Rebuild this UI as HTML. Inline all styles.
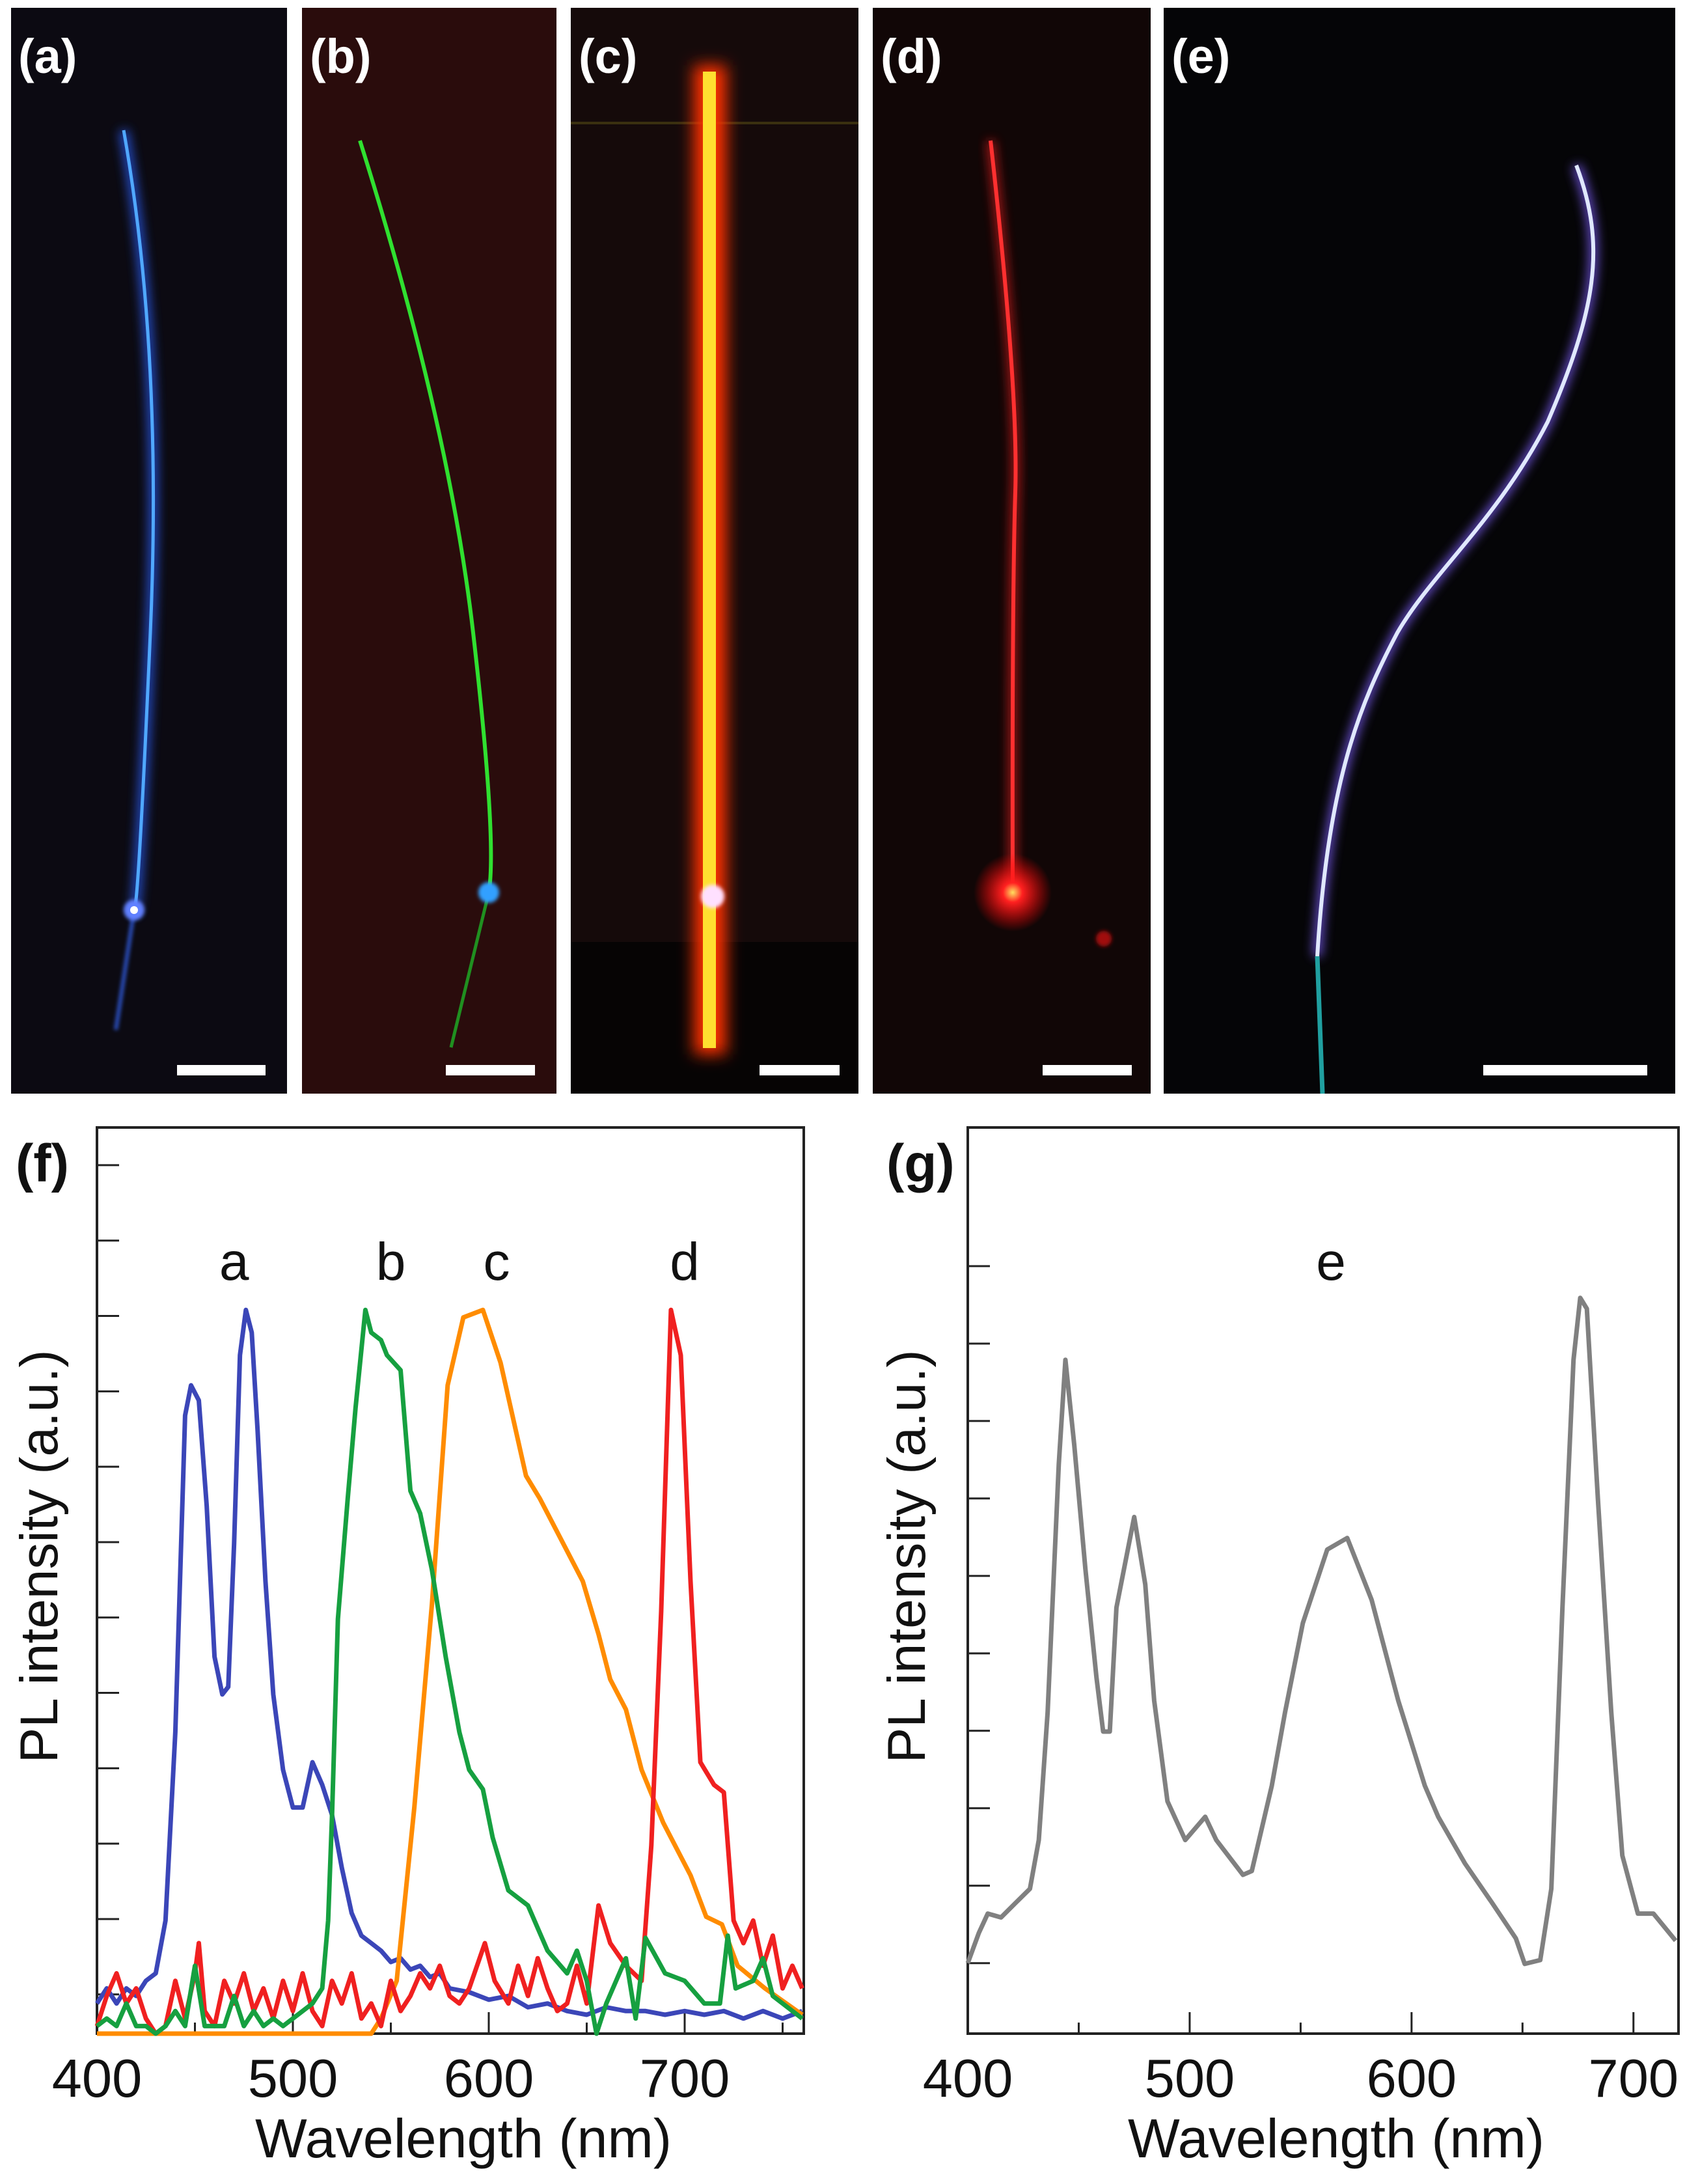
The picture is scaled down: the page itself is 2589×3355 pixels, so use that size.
<!DOCTYPE html>
<html><head><meta charset="utf-8"><style>
html,body{margin:0;padding:0;background:#fff}
svg{display:block}
text{font-family:"Liberation Sans",sans-serif}
</style></head><body>
<svg id="fig" width="2589" height="3355" viewBox="0 0 2589 3355" xmlns="http://www.w3.org/2000/svg">
<defs>
<filter id="glow" x="-50%" y="-50%" width="200%" height="200%"><feGaussianBlur stdDeviation="8"/></filter>
<filter id="glowc" x="-100%" y="-5%" width="300%" height="110%"><feGaussianBlur stdDeviation="12"/></filter>
<filter id="glow2" x="-50%" y="-50%" width="200%" height="200%"><feGaussianBlur stdDeviation="3"/></filter>
<radialGradient id="star" cx="50%" cy="50%" r="50%"><stop offset="0" stop-color="#ffe060"/><stop offset="0.25" stop-color="#ff2020"/><stop offset="1" stop-color="#ff0000" stop-opacity="0"/></radialGradient>
</defs>
<rect width="2589" height="3355" fill="#fff"/>
<g>
<rect x="17" y="12" width="424" height="1668" fill="#0c0a12"/>
<path d="M190,200 Q250,540 231,972 T206,1398" stroke="#2a60ff" stroke-width="14" fill="none" filter="url(#glow)" opacity="0.8"/>
<path d="M190,200 Q250,540 231,972 T206,1398" stroke="#50a8ff" stroke-width="5" fill="none"/>
<path d="M206,1398 L178,1582" stroke="#2a50c0" stroke-width="6" fill="none" filter="url(#glow2)"/>
<circle cx="206" cy="1398" r="16" fill="#6080ff" filter="url(#glow2)"/><circle cx="206" cy="1398" r="6" fill="#fff"/>
<rect x="272" y="1636" width="136" height="16" fill="#fff"/>
<text x="28" y="112" font-size="74" font-weight="bold" fill="#fff">(a)</text>
</g>
<g>
<rect x="464" y="12" width="391" height="1668" fill="#2a0c0c"/>
<path d="M553,216 Q690,650 727,972 T751,1371" stroke="#30e030" stroke-width="6" fill="none"/>
<path d="M751,1371 Q720,1500 693,1609" stroke="#209020" stroke-width="5" fill="none"/>
<circle cx="751" cy="1371" r="16" fill="#30a0ff" filter="url(#glow2)"/>
<rect x="685" y="1636" width="137" height="16" fill="#fff"/>
<text x="476" y="112" font-size="74" font-weight="bold" fill="#fff">(b)</text>
</g>
<g>
<rect x="877" y="12" width="442" height="1668" fill="#150a0a"/>
<rect x="877" y="1447" width="442" height="233" fill="#060404"/>
<rect x="877" y="187" width="442" height="4" fill="#3a3010"/>
<rect x="1066" y="100" width="50" height="1520" fill="#ff3000" filter="url(#glowc)"/>
<rect x="1080" y="110" width="20" height="1500" fill="#ffe030"/>
<circle cx="1095" cy="1377" r="18" fill="#ffe0ff" filter="url(#glow2)"/>
<rect x="1167" y="1636" width="123" height="16" fill="#fff"/>
<text x="889" y="112" font-size="74" font-weight="bold" fill="#fff">(c)</text>
</g>
<g>
<rect x="1341" y="12" width="427" height="1668" fill="#110606"/>
<path d="M1522,216 Q1565,600 1560,756 T1556,1371" stroke="#ff2020" stroke-width="12" fill="none" filter="url(#glow)" opacity="0.7"/>
<path d="M1522,216 Q1565,600 1560,756 T1556,1371" stroke="#ff3030" stroke-width="6" fill="none"/>
<circle cx="1556" cy="1371" r="60" fill="url(#star)"/>
<circle cx="1696" cy="1442" r="12" fill="#a01010" filter="url(#glow2)"/>
<rect x="1602" y="1636" width="137" height="16" fill="#fff"/>
<text x="1353" y="112" font-size="74" font-weight="bold" fill="#fff">(d)</text>
</g>
<g>
<rect x="1788" y="12" width="786" height="1668" fill="#050507"/>
<path d="M2422,254 C2470,380 2450,480 2378,648 C2300,800 2200,880 2147,972 C2090,1080 2040,1200 2024,1469" stroke="#8060ff" stroke-width="14" fill="none" filter="url(#glow)" opacity="0.8"/>
<path d="M2422,254 C2470,380 2450,480 2378,648 C2300,800 2200,880 2147,972 C2090,1080 2040,1200 2024,1469" stroke="#e0e8ff" stroke-width="6" fill="none"/>
<path d="M2024,1469 L2032,1680" stroke="#20a0a0" stroke-width="7" fill="none"/>
<rect x="2279" y="1636" width="252" height="16" fill="#fff"/>
<text x="1800" y="112" font-size="74" font-weight="bold" fill="#fff">(e)</text>
</g>
<g id="plotF"></g>
<g id="plotG"></g>
</svg>
<script>
const fBlueX=[400,405,410,415,420,425,430,435,440,445,448,452,456,460,464,467,470,473,476,479,482,486,490,495,500,505,510,515,520,525,530,535,540,545,550,555,560,565,570,575,580,590,600,610,620,630,640,650,660,670,680,690,700,710,720,730,740,750,760];
const fBlueY=[0.4,0.6,0.4,0.6,0.5,0.7,0.8,1.5,4,8.2,8.6,8.4,7.0,5.0,4.5,4.6,6.5,9.0,9.6,9.3,8.0,6.0,4.5,3.5,3.0,3.0,3.6,3.3,2.9,2.2,1.6,1.3,1.2,1.1,0.95,1.0,0.85,0.9,0.75,0.8,0.6,0.55,0.45,0.5,0.35,0.4,0.3,0.25,0.35,0.3,0.3,0.25,0.3,0.25,0.3,0.2,0.3,0.2,0.3];
const fGreenX=[400,405,410,415,420,425,430,435,440,445,450,455,460,465,470,475,480,485,490,495,500,505,510,515,518,520,523,528,532,537,540,545,548,555,560,565,571,578,585,590,597,602,610,620,625,630,640,645,650,655,660,670,675,680,690,700,710,718,722,726,735,740,745,760];
const fGreenY=[0.1,0.2,0.1,0.4,0.1,0.1,0.0,0.1,0.3,0.1,0.9,0.1,0.1,0.1,0.5,0.1,0.3,0.1,0.2,0.1,0.2,0.3,0.4,0.6,1.5,2.9,5.5,7.1,8.3,9.6,9.3,9.2,9.0,8.8,7.2,6.9,6.15,5.0,4.0,3.5,3.24,2.6,1.9,1.7,1.4,1.1,0.8,1.1,0.7,0.0,0.4,1.0,0.2,1.27,0.8,0.7,0.4,0.4,1.3,0.6,0.7,1.0,0.5,0.2];
const fOrangeX=[400,450,500,540,545,553,562,571,579,587,597,606,619,626,640,648,656,662,670,678,689,703,711,719,727,741,760];
const fOrangeY=[0,0,0,0,0.2,0.7,3.0,5.7,8.6,9.5,9.6,8.9,7.4,7.1,6.4,6.0,5.3,4.7,4.3,3.5,2.8,2.1,1.55,1.45,0.9,0.6,0.25];
const fRedX=[400,405,410,415,420,425,430,435,440,445,450,452,455,460,465,470,475,480,485,490,495,500,505,510,515,520,525,530,535,540,545,550,555,560,565,570,575,580,585,590,598,603,610,615,620,625,630,635,640,645,650,656,662,670,678,683,688,693,698,703,708,715,720,725,730,735,740,745,750,755,760];
const fRedY=[0.1,0.5,0.8,0.4,0.6,0.2,0.0,0.1,0.7,0.2,0.8,1.2,0.3,0.1,0.7,0.4,0.8,0.3,0.6,0.2,0.7,0.3,0.8,0.3,0.1,0.7,0.4,0.8,0.2,0.4,0.1,0.7,0.3,0.5,0.8,0.6,0.9,0.5,0.4,0.6,1.2,0.7,0.4,0.9,0.5,1.0,0.6,0.3,0.4,0.9,0.4,1.7,1.2,0.9,0.7,2.5,5.6,9.6,9.0,6.0,3.6,3.3,3.2,1.5,1.2,1.5,0.9,1.3,0.6,0.9,0.6];
const gX=[400,405,409,415,422,428,432,436,441,444,448,453,458,461,464,467,475,480,484,490,498,507,512,524,528,537,543,551,562,571,582,594,606,612,624,636,647,651,658,663,668,673,676,679,684,690,695,702,709,719];
const gY=[0.91,1.3,1.55,1.5,1.7,1.87,2.5,4.15,7.35,8.7,7.6,6.0,4.6,3.9,3.9,5.5,6.67,5.8,4.3,3.0,2.5,2.8,2.5,2.05,2.1,3.2,4.15,5.3,6.25,6.4,5.6,4.3,3.2,2.8,2.2,1.7,1.23,0.9,0.95,1.87,5.5,8.7,9.5,9.36,6.9,4.15,2.3,1.55,1.55,1.2];
const fXTicks=[400,500,600,700];
const gXTicks=[400,500,600,700];
const fPeakLabels=['a','b','c','d'];
const fPeakPos=[470,550,604,700];

const NS='http://www.w3.org/2000/svg';
function mk(p,tag,attrs){const e=document.createElementNS(NS,tag);for(const k in attrs)e.setAttribute(k,attrs[k]);p.appendChild(e);return e;}
const F={l:149,t:1732,r:1235,b:3124,x0:400,x1:760.8,ymax:12.02};
const G={l:1487,t:1732,r:2579,b:3124,x0:400,x1:720.3,ymax:11.7};
function sx(A,v){return A.l+(v-A.x0)/(A.x1-A.x0)*(A.r-A.l);}
function sy(A,v){return A.b-v/A.ymax*(A.b-A.t);}
function line(g,A,xs,ys,col,name){
  const pts=xs.map((x,i)=>sx(A,x).toFixed(1)+','+sy(A,ys[i]).toFixed(1)).join(' ');
  const e=mk(g,'polyline',{points:pts,fill:'none',stroke:col,'stroke-width':7,'stroke-linejoin':'round'});
  
  
}
function axes(g,A,xt,y0,n,label,ylabx){
  const fr=mk(g,'rect',{x:A.l,y:A.t,width:A.r-A.l,height:A.b-A.t,fill:'none',stroke:'#222','stroke-width':4});
  
  
  for(let i=0;i<n;i++){const y=sy(A,y0+i);
    const t=mk(g,'line',{x1:A.l,x2:A.l+34,y1:y,y2:y,stroke:'#222','stroke-width':3});
    
    }
  xt.forEach(v=>{const x=sx(A,v);
    const t=mk(g,'line',{x1:x,x2:x,y1:A.b,y2:A.b-33,stroke:'#222','stroke-width':3});
    
    
    const m=sx(A,v+50); if(m<A.r-5){const t2=mk(g,'line',{x1:m,x2:m,y1:A.b,y2:A.b-17,stroke:'#222','stroke-width':3});
      
      }
    const tx=mk(g,'text',{x:x,y:3221,'font-size':83,'text-anchor':'middle',fill:'#111'});tx.textContent=v;
    
    });
  const xl=mk(g,'text',{x:(A.l+A.r)/2+20,y:3314,'font-size':84,'text-anchor':'middle',fill:'#111',textLength:640,lengthAdjust:'spacingAndGlyphs'});xl.textContent='Wavelength (nm)';
  
  
  const yl=mk(g,'text',{x:0,y:0,'font-size':82,'text-anchor':'middle',fill:'#111',transform:'translate('+ylabx+',2391) rotate(-90)'});yl.textContent='PL intensity (a.u.)';
  
  
  const pl=mk(g,'text',{x:A.l-125,y:1815,'font-size':82,'font-weight':'bold',fill:'#111'});pl.textContent=label;
  
  
}
const gf=document.getElementById('plotF');
axes(gf,F,fXTicks,0.52,12,'(f)',88);
line(gf,F,fBlueX,fBlueY,'#3b46b8','series-a');
line(gf,F,fOrangeX,fOrangeY,'#ff8c00','series-c');
line(gf,F,fRedX,fRedY,'#f02020','series-d');
line(gf,F,fGreenX,fGreenY,'#16a040','series-b');
fPeakLabels.forEach((s,i)=>{const t=mk(gf,'text',{x:sx(F,fPeakPos[i]),y:1966,'font-size':82,'text-anchor':'middle',fill:'#111'});t.textContent=s;
  
  });
const gg=document.getElementById('plotG');
axes(gg,G,gXTicks,0.91,10,'(g)',1421);
line(gg,G,gX,gY,'#808080','series-e');
const te=mk(gg,'text',{x:2045,y:1966,'font-size':82,'text-anchor':'middle',fill:'#111'});te.textContent='e';


</script>
</body></html>
